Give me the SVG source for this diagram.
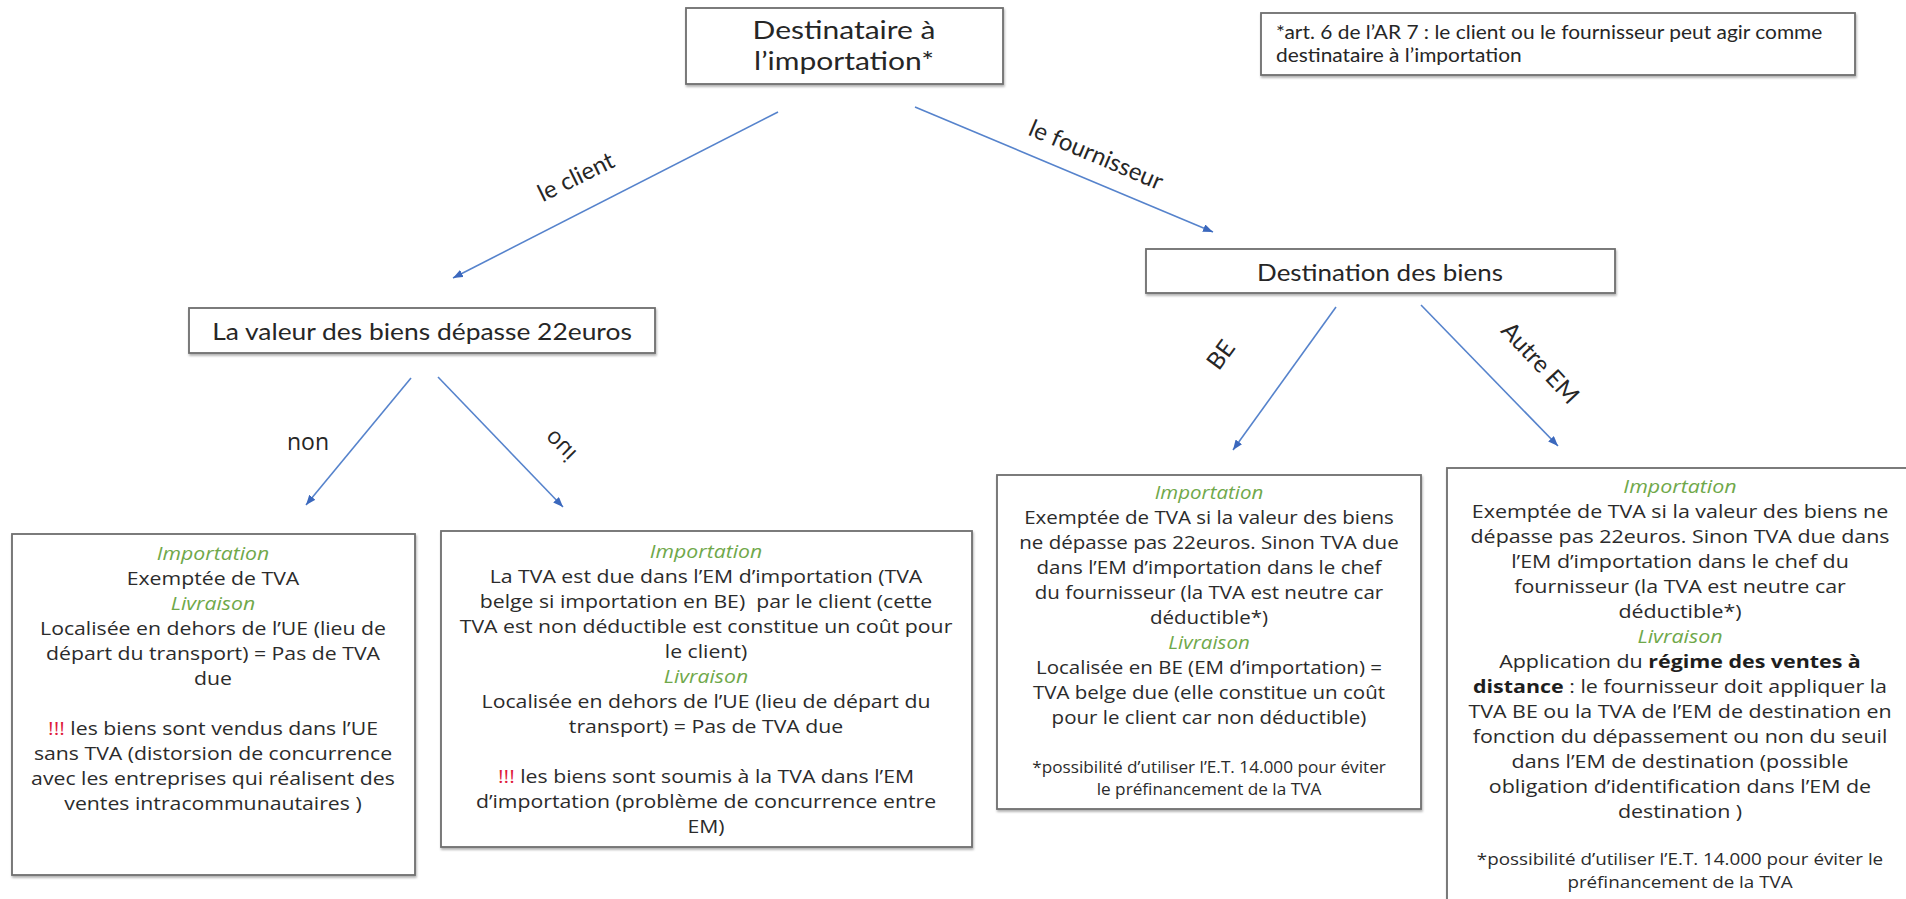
<svg xmlns="http://www.w3.org/2000/svg" width="1906" height="899" viewBox="0 0 1906 899">
  <style>
    .box { fill: #ffffff; stroke: #6e6e6e; stroke-width: 1.8; filter: url(#shadow); }
    .head { font-family: Lato, "Liberation Sans", sans-serif; fill: #262626; text-anchor: middle; }
    .note { font-family: Lato, "Liberation Sans", sans-serif; fill: #262626; font-size: 19px; }
    .body { font-family: "Open Sans", "Liberation Sans", sans-serif; fill: #2b2b2b; text-anchor: middle; font-size: 18px; }
    .foot { font-size: 16px; }
    .sec { fill: #6fa84a; font-style: italic; }
    .warn { fill: #e01b3c; }
    .strong { font-weight: bold; fill: #1e1e1e; }
    .edge { fill: none; stroke: #5683cc; stroke-width: 1.6; marker-end: url(#arrow); }
    .elabel { font-family: Lato, "Liberation Sans", sans-serif; fill: #262626; font-size: 24px; text-anchor: middle; }
    .elabel2 { font-family: "Open Sans", "Liberation Sans", sans-serif; fill: #262626; font-size: 23px; text-anchor: middle; }
  </style>
  <defs>
    <marker id="arrow" viewBox="0 0 10 8" refX="10" refY="4" markerWidth="10" markerHeight="8" markerUnits="userSpaceOnUse" orient="auto">
      <path d="M0,0 L10,4 L0,8 z" fill="#3b68bd"/>
    </marker>
    <filter id="shadow" x="-5%" y="-5%" width="110%" height="115%">
      <feDropShadow dx="0.8" dy="2" stdDeviation="0.9" flood-color="#000000" flood-opacity="0.3"/>
    </filter>
  </defs>

  <rect width="1906" height="899" fill="#ffffff"/>

  <!-- connectors -->
  <g id="connectors">
    <line class="edge" x1="778" y1="112" x2="453" y2="278"/>
    <line class="edge" x1="915" y1="107" x2="1213" y2="232"/>
    <line class="edge" x1="411" y1="378" x2="306" y2="505"/>
    <line class="edge" x1="438" y1="377" x2="563" y2="507"/>
    <line class="edge" x1="1336" y1="307" x2="1233" y2="450"/>
    <line class="edge" x1="1421" y1="305" x2="1558" y2="446"/>
    <text class="elabel" transform="translate(576,177) rotate(-26)" y="8">le client</text>
    <text class="elabel" transform="translate(1096,155) rotate(23)" y="8">le fournisseur</text>
    <text class="elabel2" x="308" y="450">non</text>
    <text class="elabel2" transform="translate(560,446) rotate(45) scale(1,-1)" y="8">oui</text>
    <text class="elabel" transform="translate(1221,355) rotate(-54)" y="8">BE</text>
    <text class="elabel" transform="translate(1540,363) rotate(47)" y="8">Autre EM</text>
  </g>

  <!-- root: who acts as importer -->
  <g id="node-destinataire">
    <rect class="box" x="686" y="8" width="317" height="76"/>
    <g transform="translate(844 0) scale(1.2 1)">
      <text class="head" font-size="25" x="0" y="39">Destinataire à</text>
      <text class="head" font-size="25" x="0" y="70">l’importation*</text>
    </g>
  </g>

  <g id="node-note">
    <rect class="box" x="1261" y="13" width="594" height="62"/>
    <g transform="translate(1276 0) scale(1.1 1)">
      <text class="note" x="0" y="39">*art. 6 de l’AR 7 : le client ou le fournisseur peut agir comme</text>
      <text class="note" x="0" y="62">destinataire à l’importation</text>
    </g>
  </g>

  <g id="node-valeur">
    <rect class="box" x="189" y="308" width="466" height="45"/>
    <g transform="translate(422 0) scale(1.1 1)">
      <text class="head" font-size="24" x="0" y="340">La valeur des biens dépasse 22euros</text>
    </g>
  </g>

  <g id="node-destination">
    <rect class="box" x="1146" y="249" width="469" height="44"/>
    <g transform="translate(1380 0) scale(1.1 1)">
      <text class="head" font-size="23.6" x="0" y="281">Destination des biens</text>
    </g>
  </g>

  <!-- client, value below 22 euros -->
  <g id="node-non">
    <rect class="box" x="12" y="534" width="403" height="341"/>
    <g transform="translate(213 0) scale(1.18 1)">
      <text class="body" x="0" y="560"><tspan class="sec">Importation</tspan></text>
      <text class="body" x="0" y="585">Exemptée de TVA</text>
      <text class="body" x="0" y="610"><tspan class="sec">Livraison</tspan></text>
      <text class="body" x="0" y="635">Localisée en dehors de l’UE (lieu de</text>
      <text class="body" x="0" y="660">départ du transport) = Pas de TVA</text>
      <text class="body" x="0" y="685">due</text>
      <text class="body" x="0" y="735"><tspan class="warn">!!!</tspan> les biens sont vendus dans l’UE</text>
      <text class="body" x="0" y="760">sans TVA (distorsion de concurrence</text>
      <text class="body" x="0" y="785">avec les entreprises qui réalisent des</text>
      <text class="body" x="0" y="810">ventes intracommunautaires )</text>
    </g>
  </g>

  <!-- client, value above 22 euros -->
  <g id="node-oui">
    <rect class="box" x="441" y="531" width="531" height="316"/>
    <g transform="translate(706 0) scale(1.18 1)">
      <text class="body" x="0" y="558"><tspan class="sec">Importation</tspan></text>
      <text class="body" x="0" y="583">La TVA est due dans l’EM d’importation (TVA</text>
      <text class="body" x="0" y="608" xml:space="preserve">belge si importation en BE)  par le client (cette</text>
      <text class="body" x="0" y="633">TVA est non déductible est constitue un coût pour</text>
      <text class="body" x="0" y="658">le client)</text>
      <text class="body" x="0" y="683"><tspan class="sec">Livraison</tspan></text>
      <text class="body" x="0" y="708">Localisée en dehors de l’UE (lieu de départ du</text>
      <text class="body" x="0" y="733">transport) = Pas de TVA due</text>
      <text class="body" x="0" y="783"><tspan class="warn">!!!</tspan> les biens sont soumis à la TVA dans l’EM</text>
      <text class="body" x="0" y="808">d’importation (problème de concurrence entre</text>
      <text class="body" x="0" y="833">EM)</text>
    </g>
  </g>

  <!-- supplier, goods to BE -->
  <g id="node-be">
    <rect class="box" x="997" y="475" width="424" height="334"/>
    <g transform="translate(1209 0) scale(1.14 1)">
      <text class="body" x="0" y="499"><tspan class="sec">Importation</tspan></text>
      <text class="body" x="0" y="524">Exemptée de TVA si la valeur des biens</text>
      <text class="body" x="0" y="549">ne dépasse pas 22euros. Sinon TVA due</text>
      <text class="body" x="0" y="574">dans l’EM d’importation dans le chef</text>
      <text class="body" x="0" y="599">du fournisseur (la TVA est neutre car</text>
      <text class="body" x="0" y="624">déductible*)</text>
      <text class="body" x="0" y="649"><tspan class="sec">Livraison</tspan></text>
      <text class="body" x="0" y="674">Localisée en BE (EM d’importation) =</text>
      <text class="body" x="0" y="699">TVA belge due (elle constitue un coût</text>
      <text class="body" x="0" y="724">pour le client car non déductible)</text>
    </g>
    <g transform="translate(1209 0) scale(1.075 1)">
      <text class="body foot" x="0" y="773">*possibilité d’utiliser l’E.T. 14.000 pour éviter</text>
      <text class="body foot" x="0" y="795">le préfinancement de la TVA</text>
    </g>
  </g>

  <!-- supplier, goods to another member state -->
  <g id="node-autre-em">
    <rect class="box" x="1447" y="468" width="490" height="450"/>
    <g transform="translate(1680 0) scale(1.19 1)">
      <text class="body" x="0" y="493"><tspan class="sec">Importation</tspan></text>
      <text class="body" x="0" y="518">Exemptée de TVA si la valeur des biens ne</text>
      <text class="body" x="0" y="543">dépasse pas 22euros. Sinon TVA due dans</text>
      <text class="body" x="0" y="568">l’EM d’importation dans le chef du</text>
      <text class="body" x="0" y="593">fournisseur (la TVA est neutre car</text>
      <text class="body" x="0" y="618">déductible*)</text>
      <text class="body" x="0" y="643"><tspan class="sec">Livraison</tspan></text>
      <text class="body" x="0" y="668">Application du <tspan class="strong">régime des ventes à</tspan></text>
      <text class="body" x="0" y="693"><tspan class="strong">distance</tspan> : le fournisseur doit appliquer la</text>
      <text class="body" x="0" y="718">TVA BE ou la TVA de l’EM de destination en</text>
      <text class="body" x="0" y="743">fonction du dépassement ou non du seuil</text>
      <text class="body" x="0" y="768">dans l’EM de destination (possible</text>
      <text class="body" x="0" y="793">obligation d’identification dans l’EM de</text>
      <text class="body" x="0" y="818">destination )</text>
    </g>
    <g transform="translate(1680 0) scale(1.175 1)">
      <text class="body foot" x="0" y="865">*possibilité d’utiliser l’E.T. 14.000 pour éviter le</text>
      <text class="body foot" x="0" y="888">préfinancement de la TVA</text>
    </g>
  </g>
</svg>
